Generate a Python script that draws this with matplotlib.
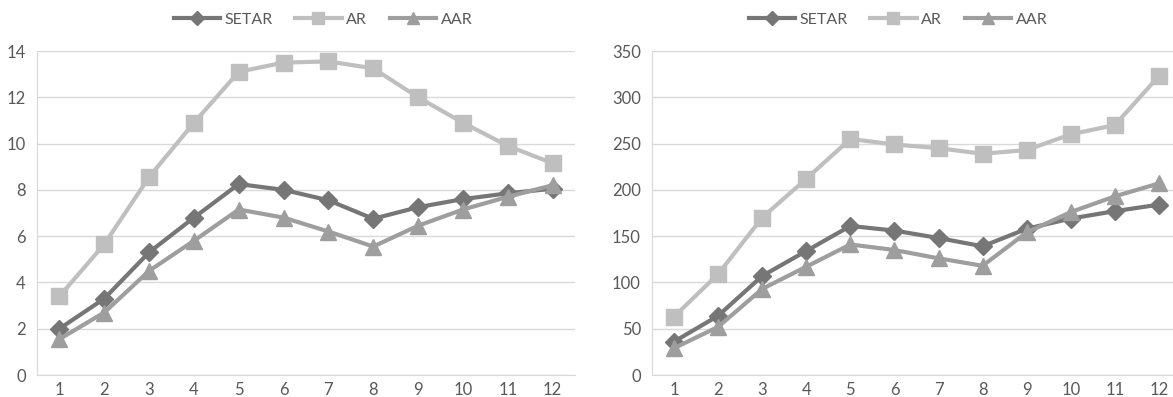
import matplotlib
matplotlib.use("Agg")
import matplotlib.pyplot as plt

x = list(range(1, 13))
series_names = ["SETAR", "AR", "AAR"]
left_setar = [2.0, 3.3, 5.3, 6.8, 8.25, 8.0, 7.55, 6.75, 7.25, 7.6, 7.85, 8.05]
left_ar = [3.4, 5.65, 8.55, 10.9, 13.1, 13.5, 13.55, 13.25, 12.0, 10.9, 9.9, 9.15]
left_aar = [1.55, 2.7, 4.5, 5.8, 7.15, 6.8, 6.2, 5.55, 6.45, 7.15, 7.7, 8.2]
right_setar = [36, 64, 107, 134, 161, 156, 148, 139, 158, 169, 177, 184]
right_ar = [63, 109, 170, 212, 255, 249, 245, 239, 243, 260, 270, 323]
right_aar = [29, 52, 93, 117, 141, 135, 126, 118, 154, 176, 193, 207]
left_yticks = [0, 2, 4, 6, 8, 10, 12, 14]
right_yticks = [0, 50, 100, 150, 200, 250, 300, 350]

colors = {"SETAR": "#767676", "AR": "#bfbfbf", "AAR": "#9e9e9e"}
markers = {"SETAR": "D", "AR": "s", "AAR": "^"}
msizes = {"SETAR": 9, "AR": 11, "AAR": 12}

plt.rcParams['font.family'] = ['Lato', 'DejaVu Sans']

W, H = 1173, 397
fig = plt.figure(figsize=(W / 100, H / 100), dpi=100)
ax1 = fig.add_axes([37 / W, 22 / H, 538 / W, 324 / H])
ax2 = fig.add_axes([652 / W, 22 / H, 529 / W, 324 / H])

def draw(ax, data, yticks):
    for name, vals in zip(series_names, data):
        ax.plot(x, vals, color=colors[name], marker=markers[name], markersize=msizes[name],
                linewidth=3, label=name, zorder=3 if name != "AR" else 2, clip_on=False)
    ax.set_ylim(yticks[0], yticks[-1])
    ax.set_yticks(yticks)
    ax.set_xlim(0.5, 12.5)
    ax.set_xticks(x)
    ax.grid(axis='y', color='#d9d9d9', linewidth=1)
    ax.set_axisbelow(True)
    for s in ['top', 'right']:
        ax.spines[s].set_visible(False)
    ax.spines['left'].set_color('#d9d9d9')
    ax.spines['bottom'].set_color('#d9d9d9')
    ax.tick_params(axis='both', length=0, labelsize=12, labelcolor='#595959', pad=5)
    ax.tick_params(axis='y', pad=8)

def legend(ax, center_px):
    h, l = ax.get_legend_handles_labels()
    leg = fig.legend(h, l, loc='center', bbox_to_anchor=(center_px / W, 1 - 20 / H), ncol=3,
                     frameon=False, fontsize=11.5, handlelength=2.9, columnspacing=1.4,
                     handletextpad=0.3, markerscale=0.75, borderaxespad=0)
    for t in leg.get_texts():
        t.set_color('#595959')

draw(ax1, [left_setar, left_ar, left_aar], left_yticks)
draw(ax2, [right_setar, right_ar, right_aar], right_yticks)
legend(ax1, 323)
legend(ax2, 898)

fig.savefig("out.png", dpi=100)
